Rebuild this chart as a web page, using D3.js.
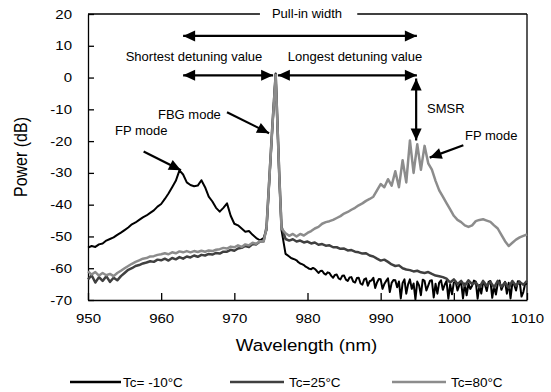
<!DOCTYPE html>
<html>
<head>
<meta charset="utf-8">
<script src="https://cdn.jsdelivr.net/npm/d3@7"></script>
<style>
  body { margin: 0; background: #fff; }
  svg text { font-family: "Liberation Sans", Arial, sans-serif; fill: #000; }
</style>
</head>
<body>
<svg id="chart"></svg>
<script>
// wavelength grids (nm)
const wlLeft = d3.range(950, 974.01, 0.5);
const wlPeak = [974.4, 974.8, 975.2, 975.65, 976.15, 976.45];
const wlRightCoarse = d3.range(977, 1010.01, 0.5);
const wlRightFine = d3.range(977, 1010.01, 0.25);
const wlBlack = [...wlLeft, ...wlPeak, ...wlRightFine];
const wlGray = [...wlLeft, ...wlPeak, ...wlRightCoarse];

// Tc = -10 C (dB), on wlBlack
const powerMinus10 = [
  -53.5, -53, -53.3, -52.5, -52.2, -51.3, -50.8, -50.3, -49.5, -48.8,
  -48, -47.2, -46.2, -45.6, -44.8, -44, -43.4, -42.6, -41.8, -40.6,
  -39.8, -38.2, -36.5, -34.5, -32.5, -29.2, -30.5, -33, -33.8, -34.2,
  -34, -32.3, -34.5, -37.5, -39, -41, -42.2, -41, -39.6, -43.5,
  -46, -46.5, -47.5, -48.5, -48.3, -49.5, -50.5, -51.2, -50.5,
  -48, -32, -16, 1.3, -32, -48,
  -55.5, -55.9, -56.3, -56.8, -57, -57.2, -57.5, -58.1, -58.5, -58.7, -59, -59.5,
  -59.8, -60.2, -60.3, -59.9, -60.2, -60.8, -61.5, -60.9, -60.8, -61.6, -62, -61.3,
  -61.5, -62.4, -63, -62.1, -62, -63.2, -63.5, -62.4, -62.3, -63.6, -64, -62.9,
  -62.8, -64.2, -64.5, -63.1, -63, -64.8, -65.2, -63.5, -63.2, -65.5, -64.1, -63.8,
  -63, -66.2, -64.5, -63.4, -63.5, -66.5, -65, -64, -63.2, -67.5, -64.6, -63.7,
  -63.8, -66, -64.2, -69.5, -64.6, -63.5, -68, -65.1, -63.5, -66.5, -64.8, -69.8,
  -64.2, -65.4, -68.5, -63.6, -64, -67, -65.5, -63.9, -63.8, -69.2, -64.9, -68,
  -64.5, -63.8, -66.8, -65.2, -64, -69.6, -65.1, -68.2, -64.5, -64.2, -67, -65.3,
  -64.4, -69.5, -64.8, -68.5, -64.8, -66.5, -65.5, -63.9, -64.2, -69.6, -65.3, -68,
  -64.5, -65.1, -67.2, -64.3, -64, -69.3, -65.6, -68.3, -64.8, -63.9, -66.8, -65.4,
  -64.3, -68, -64.6, -69.5, -64.6, -65.2, -67, -64.1, -64.2, -68.9, -67.5, -64.8,
  -65
];

// Tc = 25 C (dB), on wlGray
const power25 = [
  -63.5, -62.2, -64.5, -62.8, -64, -62.5, -64.3, -63, -63.8, -62.5,
  -61.5, -60.5, -60, -59.3, -59, -58.5, -58.2, -57.8, -58, -57.3,
  -57.5, -57, -57.6, -56.8, -57.2, -56.5, -57, -56.3, -56.6, -56,
  -56.4, -55.8, -56, -55.5, -55.7, -55.2, -55.4, -54.8, -54.8, -54.2,
  -54.5, -53.8, -53.6, -53, -53.3, -52.4, -52.5, -51.6, -51.5,
  -47, -31, -15, 1, -31, -47,
  -50.8, -51.3, -50.9, -51.6, -51.3, -51.9, -51.6, -52.2, -51.9, -52.6,
  -52.4, -52.9, -52.8, -53.4, -53.4, -53.9, -53.8, -54.4, -54.3, -54.8,
  -55, -55.4, -55.3, -56, -56.3, -57, -57.6, -57.3, -58, -58.8,
  -59.3, -59.1, -60, -60.4, -60.6, -61, -60.8, -61.3, -61.5, -61.2,
  -61.8, -62.3, -62.5, -62.8, -63.3, -64.5, -63.5, -65, -64, -65.5,
  -63.8, -65, -64.5, -66, -64, -65.5, -64.3, -66, -64, -65.8,
  -64.5, -66.2, -64, -65.5, -64.3, -65.2, -64
];

// Tc = 80 C (dB), on wlGray
const power80 = [
  -61, -62, -61.2, -62.3, -61.5, -62.2, -61.8, -62.5, -61.5, -60.8,
  -60, -59.3, -58.6, -58, -57.5, -57, -56.8, -56.3, -56.2, -55.8,
  -55.6, -55.3, -55.6, -55, -55.3, -54.7, -55, -54.6, -55, -54.6,
  -54.9, -54.5, -54.8, -54.4, -54.6, -54.2, -54, -53.6, -53.8, -53.2,
  -53.4, -52.8, -53.3, -52.5, -52.8, -52, -52.3, -51.5, -51.6,
  -47.5, -31.5, -15.5, 0.8, -31.5, -47.5,
  -49, -49.8, -49.2, -50, -49.2, -49.7, -48.9, -48.3, -47.5, -47,
  -46, -45.5, -45.2, -44.8, -44.2, -43.6, -42.8, -42.3, -41.6, -41,
  -40.2, -39.6, -38.8, -38.2, -37.5, -35.5, -33.5, -34.5, -32, -34,
  -29.5, -34.5, -26, -33, -19.8, -30, -21, -29, -21.5, -27,
  -29, -32.5, -35.5, -37.5, -39.5, -41.5, -43.5, -44.8, -45.5, -46.5,
  -47, -46.5, -45.2, -44.8, -44.6, -45, -45.4, -46.5, -47.5, -49.5,
  -51.5, -53, -52, -51, -50.3, -49.8, -49.4
];

const seriesNames = ["Tc= -10\u00b0C", "Tc=25\u00b0C", "Tc=80\u00b0C"];
const seriesColors = ["#000000", "#404040", "#8c8c8c"];
const xTicks = [950, 960, 970, 980, 990, 1000, 1010];
const yTicks = [20, 10, 0, -10, -20, -30, -40, -50, -60, -70];

// Setting up dimensions and margins
const margin = { top: 14, right: 24, bottom: 92, left: 88 };
const width = 551 - margin.left - margin.right;
const height = 392 - margin.top - margin.bottom;

const svgRoot = d3.select("#chart").attr("width", 551).attr("height", 392);
const svg = svgRoot.append("g")
  .attr("transform", `translate(${margin.left},${margin.top})`);

const x = d3.scaleLinear().domain([950, 1010]).range([0, width]);
const y = d3.scaleLinear().domain([-70, 20]).range([height, 0]);

// stretch text sideways like the original figure
function stretch(sel, sx) {
  sel.each(function () {
    const t = d3.select(this);
    const tx = +t.attr("x") || 0;
    t.attr("transform", `translate(${tx},0) scale(${sx},1) translate(${-tx},0)`);
  });
}

// Axes with inward ticks, plain hyphen minus
const yAxis = svg.append("g")
  .call(d3.axisLeft(y).tickValues(yTicks).tickFormat((d) => String(d))
    .tickSizeInner(-6).tickSizeOuter(0).tickPadding(16));
const xAxis = svg.append("g")
  .attr("transform", `translate(0,${height})`)
  .call(d3.axisBottom(x).tickValues(xTicks).tickFormat((d) => String(d))
    .tickSizeInner(-7).tickSizeOuter(0).tickPadding(14));

[yAxis, xAxis].forEach((g) => {
  g.selectAll("path, line").attr("stroke", "#000").attr("stroke-width", 1.3);
  g.selectAll("text").style("font-size", "12.5px").attr("fill", "#000");
  stretch(g.selectAll("text"), 1.2);
});

// right border and top border (broken by the label)
svg.append("line").attr("x1", width).attr("x2", width).attr("y1", 0).attr("y2", height)
  .attr("stroke", "#000").attr("stroke-width", 1.3);
svg.append("line").attr("x1", 0).attr("x2", x(973.5)).attr("y1", 0).attr("y2", 0)
  .attr("stroke", "#000").attr("stroke-width", 1.3);
svg.append("line").attr("x1", x(986.8)).attr("x2", width).attr("y1", 0).attr("y2", 0)
  .attr("stroke", "#000").attr("stroke-width", 1.3);

// Spectra (black first, grays on top)
const allSeries = [
  { wl: wlBlack, vals: powerMinus10, width: 2 },
  { wl: wlGray, vals: power25, width: 2.5 },
  { wl: wlGray, vals: power80, width: 2.5 }
];

allSeries.forEach((s, k) => {
  const line = d3.line()
    .x((d, i) => x(s.wl[i]))
    .y((d) => y(d));
  svg.append("path")
    .datum(s.vals)
    .attr("fill", "none")
    .attr("stroke", seriesColors[k])
    .attr("stroke-width", s.width)
    .attr("stroke-linejoin", "round")
    .attr("d", line);
});

// Axis titles
const xTitle = svgRoot.append("text")
  .attr("x", margin.left + width / 2 - 1)
  .attr("y", 351)
  .attr("text-anchor", "middle")
  .style("font-size", "17px")
  .text("Wavelength (nm)");
stretch(xTitle, 1.1);

svgRoot.append("text")
  .attr("transform", `translate(27,${margin.top + height / 2}) scale(1.15,1) rotate(-90)`)
  .attr("text-anchor", "middle")
  .style("font-size", "16px")
  .text("Power (dB)");

// Arrows drawn in data units
function arrowHead(tx, ty, fx, fy) {
  const ang = Math.atan2(ty - fy, tx - fx);
  const len = 12, hw = 5.5;
  const bx = tx - len * Math.cos(ang), by = ty - len * Math.sin(ang);
  const px = -Math.sin(ang) * hw, py = Math.cos(ang) * hw;
  svg.append("polygon")
    .attr("points", `${tx},${ty} ${bx + px},${by + py} ${bx - px},${by - py}`)
    .attr("fill", "#000");
}
function arrow(x1, y1, x2, y2, both) {
  svg.append("line")
    .attr("x1", x1).attr("y1", y1).attr("x2", x2).attr("y2", y2)
    .attr("stroke", "#000").attr("stroke-width", 2.2);
  arrowHead(x2, y2, x1, y1);
  if (both) arrowHead(x1, y1, x2, y2);
}

arrow(x(963), y(13.1), x(994.95), y(13.1), true);     // pull-in width
arrow(x(963), y(0.7), x(975.3), y(0.7), true);        // shortest
arrow(x(975.95), y(0.7), x(994.95), y(0.7), true);    // longest
arrow(x(994.85), y(-0.3), x(994.85), y(-19.8), true); // SMSR
arrow(x(1001.3), y(-21.3), x(996.7), y(-25.2));       // FP mode right
arrow(x(969.0), y(-10.9), x(974.75), y(-17.5));       // FBG mode
arrow(x(957.6), y(-23.3), x(962.7), y(-29.2));        // FP mode left

// Annotation labels
const notes = [
  { text: "Pull-in width", x: 307, y: 18, anchor: "middle" },
  { text: "Shortest detuning value", x: 194, y: 61, anchor: "middle" },
  { text: "Longest detuning value", x: 355, y: 61, anchor: "middle" },
  { text: "SMSR", x: 427, y: 113, anchor: "start" },
  { text: "FP mode", x: 465, y: 140, anchor: "start" },
  { text: "FBG mode", x: 158, y: 119, anchor: "start" },
  { text: "FP mode", x: 115, y: 135, anchor: "start" }
];
svgRoot.selectAll("text.note")
  .data(notes)
  .enter()
  .append("text")
  .attr("class", "note")
  .attr("x", (d) => d.x)
  .attr("y", (d) => d.y)
  .attr("text-anchor", (d) => d.anchor)
  .style("font-size", "13px")
  .text((d) => d.text);

// Legend
const legendX = [70, 230, 392];
const legend = svgRoot.selectAll("g.legend")
  .data(seriesNames)
  .enter()
  .append("g")
  .attr("class", "legend")
  .attr("transform", (d, i) => `translate(${legendX[i]},382)`);
legend.append("line")
  .attr("x1", 0).attr("x2", (d, i) => (i === 0 ? 51 : 54))
  .attr("y1", 0).attr("y2", 0)
  .attr("stroke", (d, i) => seriesColors[i])
  .attr("stroke-width", 2.4);
legend.append("text")
  .attr("x", (d, i) => (i === 0 ? 53 : 59))
  .attr("y", 5)
  .style("font-size", "13.5px")
  .text((d) => d);
</script>
</body>
</html>
